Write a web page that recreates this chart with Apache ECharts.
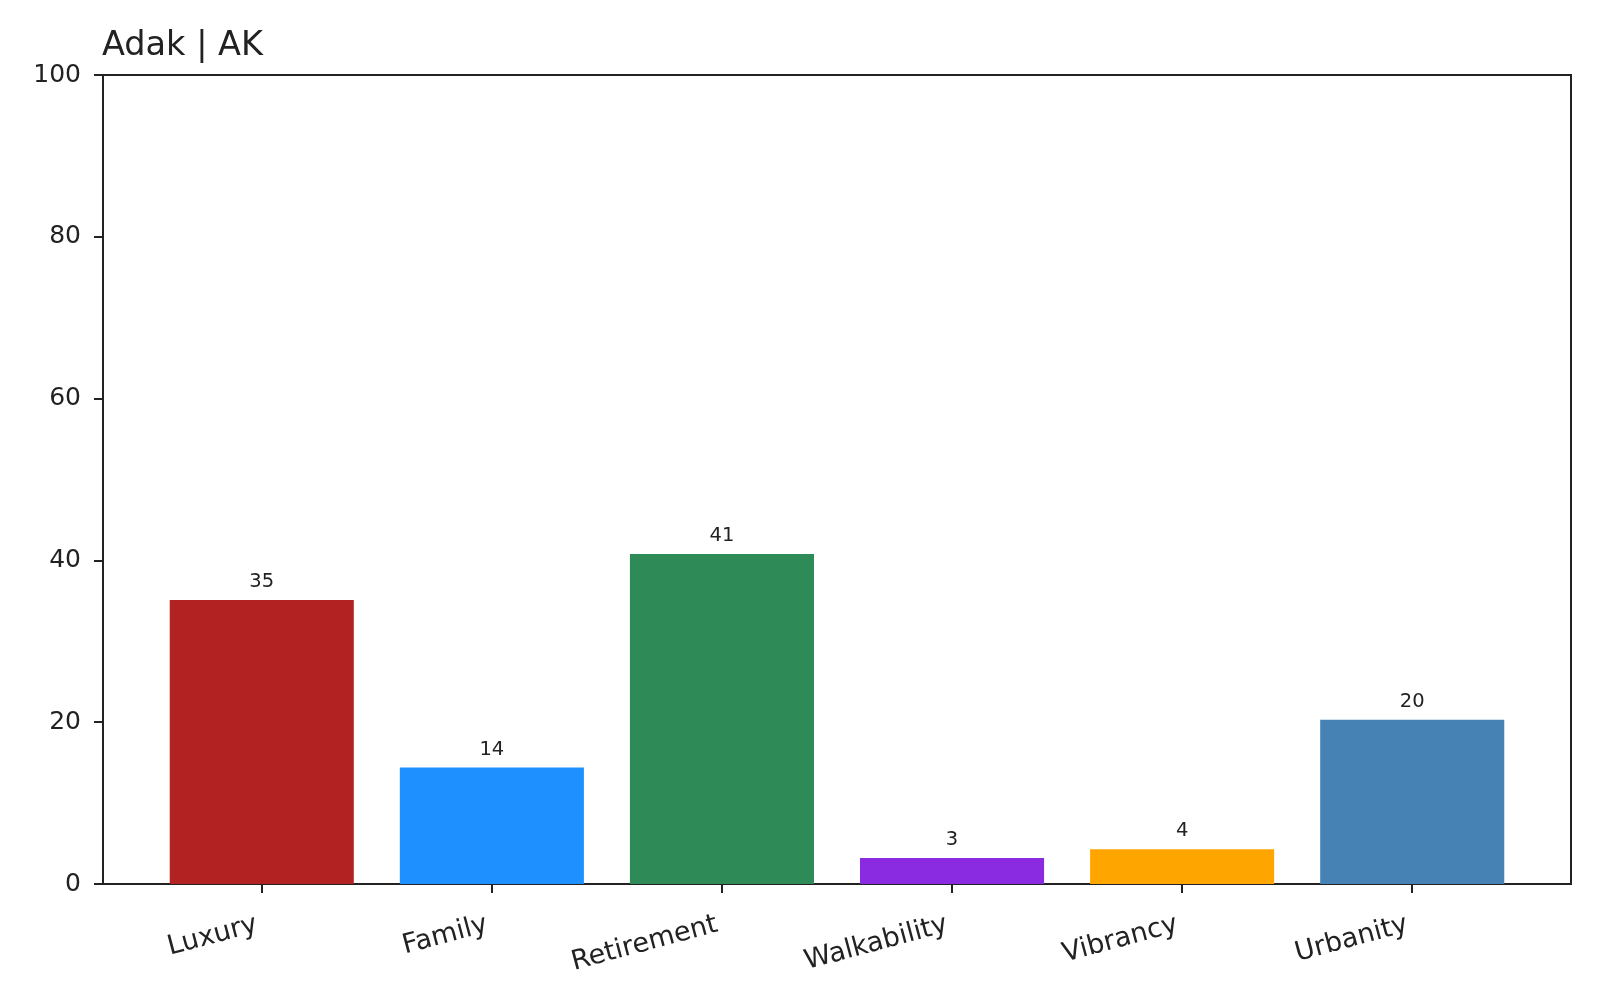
<!DOCTYPE html>
<html>
<head>
<meta charset="utf-8">
<script src="https://cdn.jsdelivr.net/npm/echarts@6/dist/echarts.min.js"></script>
<style>html,body{margin:0;padding:0;background:#fff}#c{width:1600px;height:1000px}</style>
</head>
<body>
<div id="c"></div>
<script>
const titleText = 'Adak | AK';
const categories = ['Luxury', 'Family', 'Retirement', 'Walkability', 'Vibrancy', 'Urbanity'];
const values = [35.1, 14.4, 40.8, 3.2, 4.3, 20.3];
const colors = ['#B22222', '#1E90FF', '#2E8B57', '#8A2BE2', '#FFA500', '#4682B4'];
const yTicks = [0, 20, 40, 60, 80, 100];

const font = 'DejaVu Sans';
const n = categories.length;
const xMin = -0.4 - 0.05 * (n - 1 + 0.8);
const xMax = (n - 1) + 0.4 + 0.05 * (n - 1 + 0.8);
const plotW = 1600 - 103 - 29;
const barW = plotW * 0.8 / (xMax - xMin);

const chart = echarts.init(document.getElementById('c'), null, {renderer: 'canvas'});
chart.setOption({
  animation: false,
  backgroundColor: '#fff',
  title: {
    text: titleText, left: 97, top: 24,
    textStyle: {fontFamily: font, fontSize: 33.5, fontWeight: 'normal', color: '#222'}
  },
  grid: {left: 103, right: 29, top: 75, bottom: 116, show: true, borderColor: '#222', borderWidth: 2, backgroundColor: 'transparent'},
  xAxis: {
    type: 'value', min: xMin, max: xMax,
    splitLine: {show: false},
    axisLine: {show: true, onZero: false, lineStyle: {color: '#222', width: 2}},
    axisTick: {show: true, length: 9, lineStyle: {color: '#222', width: 2}, customValues: categories.map((c, i) => i)},
    axisLabel: {
      customValues: categories.map((c, i) => i),
      rotate: 15, margin: 39, padding: [0, 5, 0, 0],
      fontFamily: font, fontSize: 27, color: '#222',
      formatter: v => categories[Math.round(v)] || ''
    }
  },
  yAxis: {
    type: 'value', min: 0, max: 100, interval: 20,
    splitLine: {show: false},
    axisLine: {show: true, onZero: false, lineStyle: {color: '#222', width: 2}},
    axisTick: {show: true, length: 9, lineStyle: {color: '#222', width: 2}},
    axisLabel: {margin: 22, fontFamily: font, fontSize: 25, color: '#222',
      formatter: v => yTicks.includes(v) ? String(v) : ''}
  },
  series: [{
    type: 'bar',
    barWidth: barW,
    data: values.map((v, i) => ({value: [i, v], itemStyle: {color: colors[i]}})),
    label: {
      show: true, position: 'top', distance: 8,
      fontFamily: font, fontSize: 19.5, color: '#222',
      formatter: p => String(Math.round(p.value[1]))
    }
  }]
});
</script>
</body>
</html>
